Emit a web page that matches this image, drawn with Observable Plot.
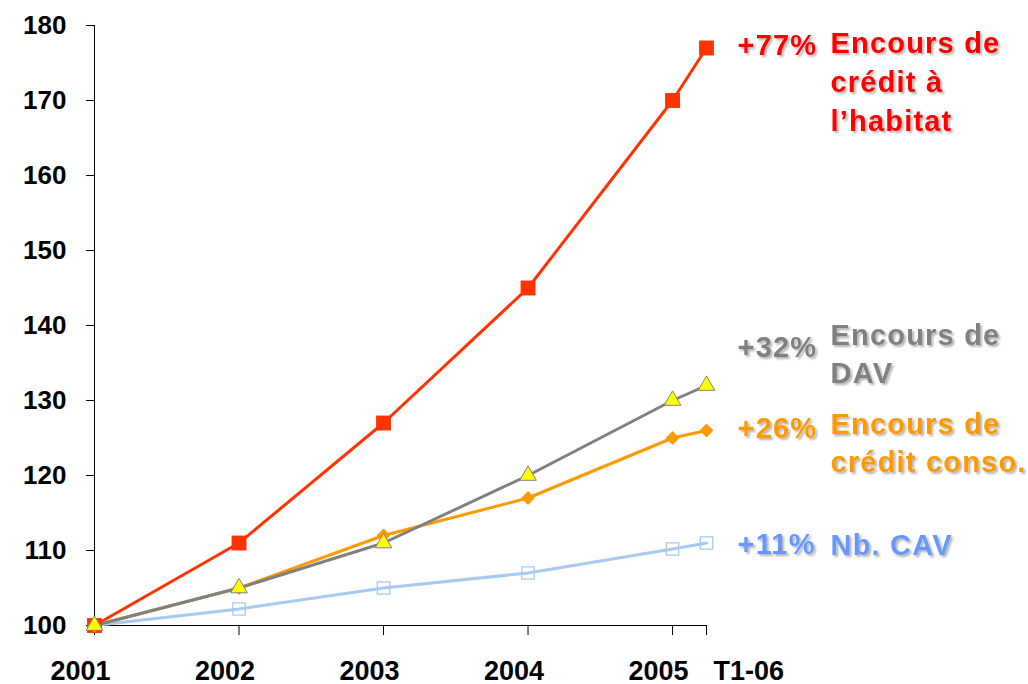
<!DOCTYPE html>
<html>
<head>
<meta charset="utf-8">
<script src="https://cdn.jsdelivr.net/npm/d3@7"></script>
<script src="https://cdn.jsdelivr.net/npm/@observablehq/plot@0.6"></script>
<style>
  html, body { margin: 0; padding: 0; background: #fff; }
  #chart svg { display: block; }
</style>
</head>
<body>
<div id="chart"></div>
<script>
// Periods on the x axis (T1-06 = first quarter of 2006, plotted a quarter after 2005)
const periods = ["2001", "2002", "2003", "2004", "2005", "T1-06"];
const periodX = [2001, 2002, 2003, 2004, 2005, 2005.235];

// Indexed series, base 100 in 2001
const habitat = [100, 111, 127, 145, 170, 177];
const dav     = [100, 105, 111, 120, 130, 132];
const conso   = [100, 105, 112, 117, 125, 126];
const nbCav   = [100, 102.2, 105, 107, 110.2, 111];

const yTicks = [100, 110, 120, 130, 140, 150, 160, 170, 180];

const seriesNames = [
  "Encours de\ncrédit à\nl’habitat",
  "Encours de\nDAV",
  "Encours de\ncrédit conso.",
  "Nb. CAV"
];

// Styling per series (drawing order: light blue first, triangles last)
const series = [
  {key: "cav",     values: nbCav,   name: seriesNames[3], line: "#A6CAF0", text: "#6699FF",
   symbol: "square", r: 7, fill: "none", stroke: "#A6CAF0", sw: 1.3, pctDy: 2, nameDy: 5},
  {key: "habitat", values: habitat, name: seriesNames[0], line: "#FF3300", text: "#FF0000",
   symbol: "square", r: 8.4, fill: "#FF3300", stroke: "none", sw: 0, pctDy: -2, nameDy: -2},
  {key: "conso",   values: conso,   name: seriesNames[2], line: "#FF9900", text: "#FF9900",
   symbol: "diamond2", r: 6.2, fill: "#FF9900", stroke: "none", sw: 0, pctDy: -2, nameDy: -4},
  {key: "dav",     values: dav,     name: seriesNames[1], line: "#808080", text: "#808080",
   symbol: "triangle", r: 6.2, fill: "#FFFF00", stroke: "#808080", sw: 1, pctDy: -38, nameDy: -48}
];

const rows = series.flatMap(s => s.values.map((v, i) => ({key: s.key, x: periodX[i], y: v})));
const ends = series.map(s => ({
  ...s,
  x: periodX[periodX.length - 1],
  y: s.values[s.values.length - 1],
  pct: "+" + Math.round(s.values[s.values.length - 1] - 100) + "%"
}));

const font = "'Liberation Sans', Arial, sans-serif";
const labelSize = 29;

const marks = [
  // axis lines
  Plot.ruleX([periodX[0]], {y1: 100, y2: 180, stroke: "#000", strokeWidth: 1}),
  Plot.ruleY([100], {x1: periodX[0], x2: periodX[periodX.length - 1], stroke: "#000", strokeWidth: 1}),
  // y axis
  Plot.axisY({ticks: yTicks, tickSize: 8, tickPadding: 20, fontSize: 26, fontWeight: "bold",
              fill: "#000", stroke: "#000", tickFormat: d => d, label: null}),
  // x axis ticks (labels drawn separately)
  Plot.axisX({ticks: periodX, tickSize: 10, tickFormat: () => "", label: null, stroke: "#000"}),
  Plot.text(periods.slice(0, 5), {x: (d, i) => periodX[i], frameAnchor: "bottom", dy: 54,
    dx: -14, fontSize: 27, fontWeight: "bold", fill: "#000", lineAnchor: "bottom"}),
  Plot.text(periods.slice(5), {x: () => periodX[5], frameAnchor: "bottom", dy: 54,
    dx: 7, textAnchor: "start", fontSize: 27, fontWeight: "bold", fill: "#000", lineAnchor: "bottom"})
];

for (const s of series) {
  marks.push(Plot.line(rows.filter(r => r.key === s.key),
    {x: "x", y: "y", stroke: s.line, strokeWidth: 3}));
}
for (const s of series) {
  marks.push(Plot.dot(rows.filter(r => r.key === s.key),
    {x: "x", y: "y", symbol: () => s.symbol, r: s.r, fill: s.fill, stroke: s.stroke, strokeWidth: s.sw}));
}
for (const e of ends) {
  marks.push(Plot.text([e], {x: "x", y: "y", text: "pct", dx: 31, dy: e.pctDy, textAnchor: "start",
    fill: e.text, fontSize: labelSize, fontWeight: "bold"}));
  marks.push(Plot.text([e], {x: "x", y: "y", text: "name", dx: 124, dy: e.nameDy - 20, textAnchor: "start",
    lineAnchor: "top", lineHeight: 1.33, fill: e.text, fontSize: labelSize, fontWeight: "bold"}));
}

const chart = Plot.plot({
  width: 1028,
  height: 684,
  marginLeft: 94,
  marginRight: 322,
  marginTop: 25,
  marginBottom: 59,
  style: {fontFamily: font, background: "#fff", overflow: "visible"},
  x: {type: "linear", domain: [periodX[0], periodX[periodX.length - 1]]},
  y: {domain: [100, 180]},
  marks
});

// soft drop shadow and slightly wider spacing for the series labels
const svg = d3.select(chart);
const defs = svg.insert("defs", ":first-child");
defs.append("filter").attr("id", "label-shadow").attr("x", "-10%").attr("y", "-10%")
  .attr("width", "130%").attr("height", "130%")
  .append("feDropShadow").attr("dx", 2).attr("dy", 2).attr("stdDeviation", 0.8)
  .attr("flood-color", "#000").attr("flood-opacity", 0.3);
svg.selectAll("g[aria-label='text']").filter(function () {
  return this.getAttribute("font-size") == labelSize;
}).attr("filter", "url(#label-shadow)").attr("letter-spacing", 1.2);

document.getElementById("chart").appendChild(chart);
</script>
</body>
</html>
